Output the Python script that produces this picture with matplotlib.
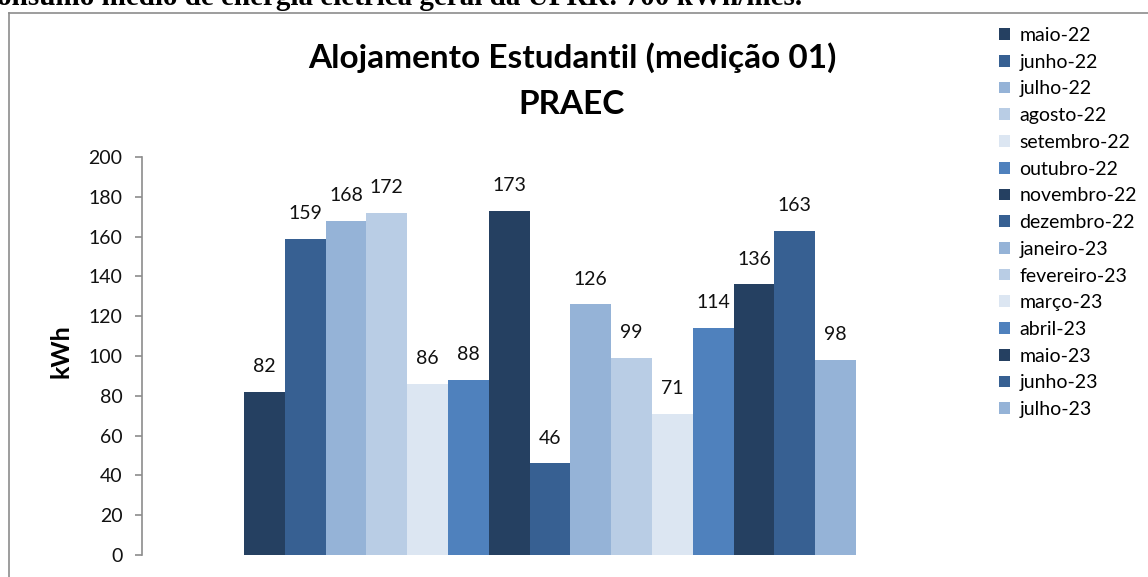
import numpy as np
import matplotlib.pyplot as plt
from matplotlib.patches import Patch
from matplotlib.lines import Line2D

meses = ['maio-22', 'junho-22', 'julho-22', 'agosto-22', 'setembro-22', 'outubro-22',
         'novembro-22', 'dezembro-22', 'janeiro-23', 'fevereiro-23', 'março-23',
         'abril-23', 'maio-23', 'junho-23', 'julho-23']
consumo = [82, 159, 168, 172, 86, 88, 173, 46, 126, 99, 71, 114, 136, 163, 98]

# tons de azul do Excel, repetidos a cada 6 meses
paleta = ['#254061', '#376092', '#95B3D7', '#B9CDE5', '#DCE6F2', '#4F81BD']
cores = [paleta[i % 6] for i in range(len(meses))]

fnt = 14
plt.rcParams['font.family'] = ['Lato', 'DejaVu Sans']

fig = plt.figure(figsize=(11.48, 5.77), dpi=100)
ax = fig.add_axes([142/1148, 1 - 555/577, (958 - 142)/1148, (555 - 157)/577])

x = np.arange(len(meses))
bars = ax.bar(x, consumo, width=1.0, color=cores, linewidth=0)
for xi, v in zip(x, consumo):
    ax.annotate(str(v), (xi, v), xytext=(0, 12), textcoords='offset points',
                ha='center', va='bottom', fontsize=fnt, color='#111111')

ax.set_xlim(-3, 17)
ax.set_ylim(0, 200)
ax.set_yticks(np.arange(0, 201, 20))
ax.set_xticks([])
for s in ['top', 'right', 'bottom']:
    ax.spines[s].set_visible(False)
ax.spines['left'].set_color('#8c8c8c')
ax.spines['left'].set_linewidth(1.2)
ax.tick_params(axis='y', colors='#8c8c8c', length=5, width=1.2, labelsize=fnt,
               labelcolor='#111111', pad=9)
ax.set_ylabel('kWh', fontsize=18, fontweight='bold')
ax.yaxis.set_label_coords(-0.085, 0.512)

fig.text(572/1148, 1 - 58/577, 'Alojamento Estudantil (medição 01)', ha='center',
         va='center', fontsize=24, fontweight='bold')
fig.text(572/1148, 1 - 105/577, 'PRAEC', ha='center', va='center', fontsize=24,
         fontweight='bold')

handles = [Patch(facecolor=c, edgecolor='none') for c in cores]
leg = fig.legend(handles, meses, loc='upper left', bbox_to_anchor=(999/1148, 1 - 27/577),
                 frameon=False, fontsize=14, handlelength=0.55, handleheight=0.55,
                 handletextpad=0.5, labelspacing=0.5, borderaxespad=0, borderpad=0)

# moldura do grafico (so topo e esquerda aparecem no recorte)
fig.add_artist(Line2D([9/1148, 1], [1 - 13/577, 1 - 13/577], color='#8c8c8c', lw=1.2))
fig.add_artist(Line2D([9/1148, 9/1148], [0, 1 - 13/577], color='#8c8c8c', lw=1.2))

# texto do documento cortado no topo
topo = fig.text(-3/1148, 1 - 5/577, 'onsumo médio de energia elétrica geral da UFRR: 700 kWh/mês.',
                ha='left', va='baseline', fontsize=20, fontweight='bold',
                family='Liberation Serif')
larg = topo.get_window_extent(renderer=fig.canvas.get_renderer()).width
topo.set_fontsize(20 * 806 / larg)

fig.savefig('out.png', dpi=100)
